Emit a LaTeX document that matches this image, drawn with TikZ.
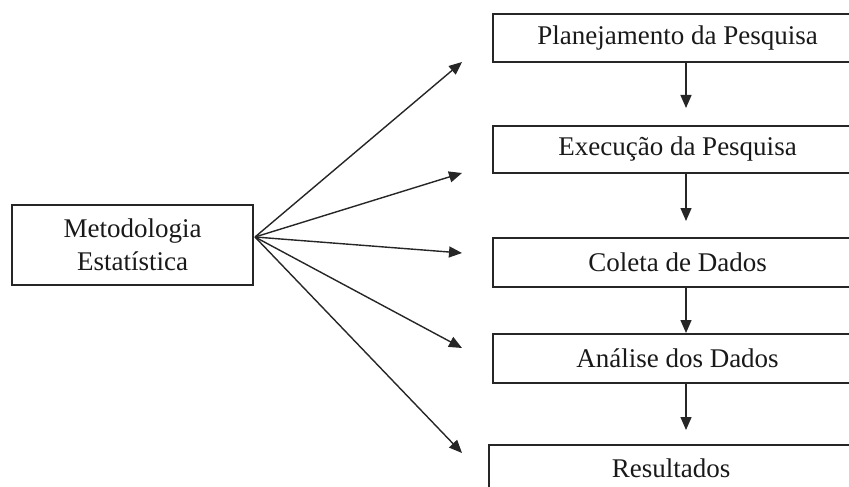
\documentclass[tikz,border=0pt]{standalone}
\usepackage{fontspec}
\setmainfont{Liberation Serif}
\usetikzlibrary{arrows.meta}
\begin{document}
\begin{tikzpicture}[x=0.5pt,y=-0.5pt,
  box/.style={draw=black!85, line width=1pt, inner sep=0pt, font=\fontsize{13.5}{16.5}\selectfont, align=center, text=black!90},
  arr/.style={draw=black!85, line width=0.7pt, -{Triangle[length=6.5pt,width=5.5pt]}}]
\useasboundingbox (0,0) rectangle (849,486);
\clip (0,0) rectangle (849,486);
\node[box, minimum width=120.5pt, minimum height=40pt] (L) at (132.5,245) {Metodologia\\Estatística};
\node[box, minimum width=184.5pt, minimum height=24pt] (B1) at (677.5,38) {Planejamento da Pesquisa};
\node[box, minimum width=184.5pt, minimum height=23.5pt] (B2) at (677.5,149.5) {Execução da Pesquisa};
\node[box, minimum width=184.5pt, minimum height=24.5pt] (B3) at (677.5,262.5) {Coleta de Dados};
\node[box, minimum width=184.5pt, minimum height=24.5pt] (B4) at (677.5,358.5) {Análise dos Dados};
\node[box, minimum width=183pt, minimum height=30pt, anchor=north west] (B5) at (488,444) {};
\node[font=\fontsize{13.5}{16.5}\selectfont, text=black!90, anchor=base] (R) at (671,477) {Resultados};
\coordinate (o) at (255,237);
\coordinate (t1) at (462,62);
\coordinate (t2) at (462,173);
\coordinate (t3) at (462,253);
\coordinate (t4) at (462,348);
\coordinate (t5) at (462,453);
\foreach \t in {t1,t2,t3,t4,t5} \draw[arr] (o) -- (\t);
\coordinate (ax) at (686,0);
\draw[arr, shorten >=8.5pt] (B1.south -| ax) -- (B2.north -| ax);
\draw[arr, shorten >=8pt] (B2.south -| ax) -- (B3.north -| ax);
\draw[arr] (B3.south -| ax) -- (B4.north -| ax);
\draw[arr, shorten >=7pt] (B4.south -| ax) -- (B5.north -| ax);
\end{tikzpicture}
\end{document}
